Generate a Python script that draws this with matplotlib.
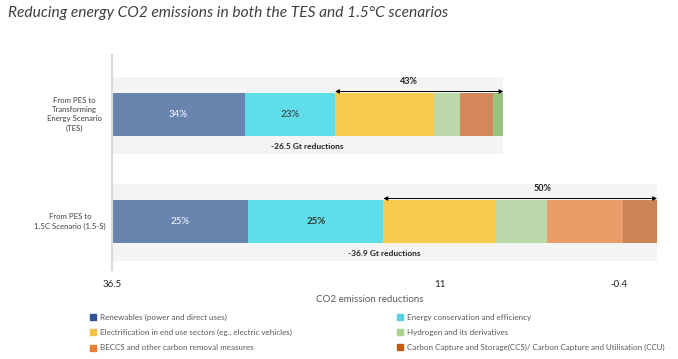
import matplotlib

matplotlib.use("Agg")

import matplotlib.pyplot as plt
from matplotlib.patches import Patch

plt.rcParams["font.family"] = ["Lato", "DejaVu Sans"]

# ---- data -------------------------------------------------------------
scenarios = ["From PES to\nTransforming\nEnergy Scenario\n(TES)",
             "From PES to\n1.5C Scenario (1.5-S)"]
totals_gt = [26.5, 36.9]  # Gt CO2 reductions per scenario
# share of the reduction by measure (%)
shares_tes = [34, 23, 25.3, 6.6, 8.5, 2.6]
shares_15s = [25, 24.8, 20.6, 9.5, 13.9, 6.2]
inner_labels_tes = ["34%", "23%"]
inner_labels_15s = ["25%", "25%"]
bracket_labels = ["43%", "50%"]  # share of the last four measures
tick_labels = ["36.5", "11", "-0.4"]
legend_labels = [
    "Renewables (power and direct uses)",
    "Energy conservation and efficiency",
    "Electrification in end use sectors (eg., electric vehicles)",
    "Hydrogen and its derivatives",
    "BECCS and other carbon removal measures",
    "Carbon Capture and Storage(CCS)/ Carbon Capture and Utilisation (CCU)",
]

# ---- style ------------------------------------------------------------
colors_tes = ["#6a84b0", "#5fdde8", "#f6cb4d", "#bad8a9", "#d3875a", "#99c47f"]
colors_15s = ["#6a84b0", "#5fdde8", "#f6cb4d", "#bad8a9", "#e99e6a", "#cc8555"]
legend_colors = ["#2f5597", "#5bd1e0", "#f5c342", "#a9d18e", "#ed7d31", "#c55a11"]
inner_colors = ["white", "#333333"]
tick_pos = [0.0, 22.2, 34.3]  # where the ticks sit along the axis (Gt)

W, H = 678, 359
fig = plt.figure(figsize=(W / 100, H / 100), dpi=100)
ax = fig.add_axes([112 / W, 1 - 270 / H, 545 / W, 215 / H])

rows = [(shares_tes, colors_tes, inner_labels_tes),
        (shares_15s, colors_15s, inner_labels_15s)]

for i, (shares, cols, inner) in enumerate(rows):
    total = totals_gt[i]
    # light grey backing panel
    ax.bar(total / 2, 0.72, width=total, bottom=-0.35 + i,
           color="#f4f4f4", zorder=0)
    widths = [s * total / sum(shares) for s in shares]
    left = 0.0
    for j, (w, c) in enumerate(zip(widths, cols)):
        ax.barh(i, w, left=left, height=0.40, color=c, zorder=2)
        if j < len(inner):
            ax.text(left + w / 2, i, inner[j], ha="center", va="center",
                    fontsize=7, color=inner_colors[j],
                    fontweight="bold" if (i == 1 and j == 1) else "normal",
                    zorder=3)
        left += w
    # bracket over the last four measures
    start = sum(widths[:2])
    ax.annotate("", xy=(total, i - 0.215), xytext=(start, i - 0.215),
                arrowprops=dict(arrowstyle="<|-|>", color="black", lw=0.7,
                                mutation_scale=6, shrinkA=0, shrinkB=0),
                zorder=3)
    ax.text(start + (total - start) * (0.44 if i == 0 else 0.58), i - 0.27,
            bracket_labels[i], ha="center", va="bottom", fontsize=6.5,
            fontweight="bold", color="#222222")
    ax.text(total * 0.50, i + 0.30,
            f"-{total} Gt reductions", ha="center", va="center",
            fontsize=6, fontweight="bold", color="#222222")
    # scenario label
    ax.text(-0.7 if i == 0 else -0.4, i, scenarios[i], ha="right",
            va="center", multialignment="center", fontsize=5.6,
            color="#404040", linespacing=1.35)

ax.set_xlim(0, 36.9)
ax.set_ylim(1.453, -0.556)
ax.set_yticks([])
ax.set_xticks(tick_pos)
ax.set_xticklabels(tick_labels, fontsize=7, color="#222222")
ax.tick_params(axis="x", length=0, pad=7)
for s in ("top", "right", "bottom"):
    ax.spines[s].set_visible(False)
ax.spines["left"].set_color("#d9d9d9")
ax.spines["left"].set_linewidth(1.5)

fig.text(370 / W, 1 - 300 / H, "CO2 emission reductions", ha="center",
         va="center", fontsize=7, color="#595959")

fig.text(8 / W, 1 - 13 / H,
         "Reducing energy CO2 emissions in both the TES and 1.5\u00b0C scenarios",
         ha="left", va="center", fontsize=11.2, style="italic",
         color="#404040")

order = [0, 2, 4, 1, 3, 5]
handles = [Patch(color=legend_colors[k], label=legend_labels[k]) for k in order]
leg = fig.legend(handles=handles, ncol=2, loc="upper left",
                 bbox_to_anchor=(90 / W, 1 - 314 / H), frameon=False,
                 fontsize=5.8, handlelength=0.75, handleheight=0.75,
                 handletextpad=0.5, columnspacing=13.0, labelspacing=1.0,
                 borderpad=0, borderaxespad=0)
for t in leg.get_texts():
    t.set_color("#595959")

fig.savefig("out.png", dpi=100)
